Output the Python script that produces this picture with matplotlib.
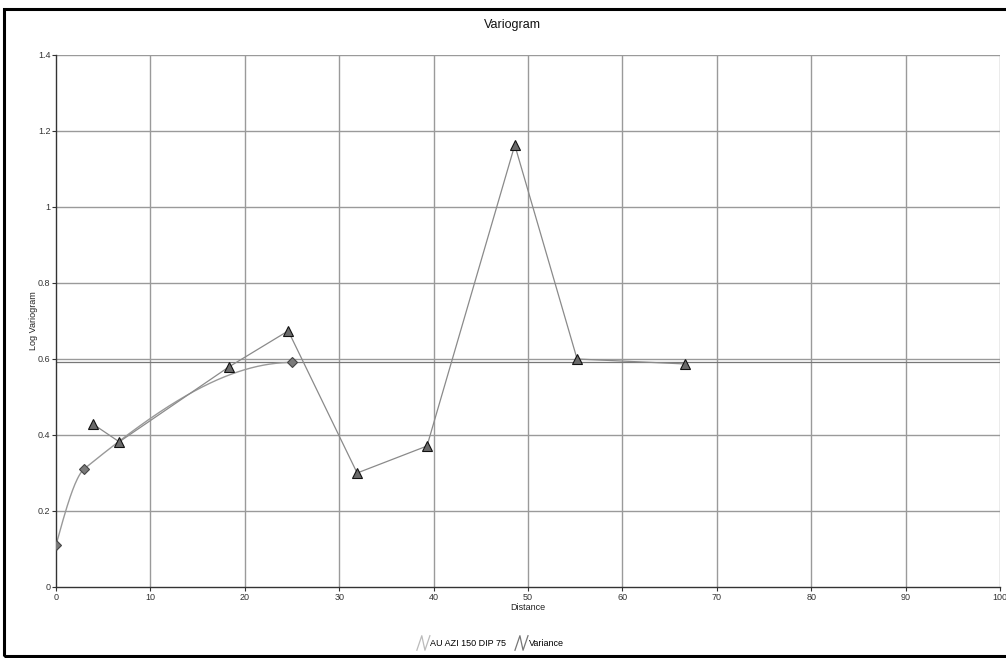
import numpy as np
import matplotlib
matplotlib.use("Agg")
import matplotlib.pyplot as plt
from matplotlib.lines import Line2D
from matplotlib.legend_handler import HandlerBase
from matplotlib.patches import Rectangle

plt.rcParams['font.family'] = ['Liberation Sans', 'DejaVu Sans']

# Experimental variogram (lag distance, log variogram)
lag_distance = [3.9, 6.7, 18.3, 24.6, 31.9, 39.3, 48.6, 55.2, 66.6]
log_variogram = [0.429, 0.382, 0.579, 0.674, 0.300, 0.371, 1.163, 0.600, 0.587]

# Nested spherical model: nugget + two structures
nugget = 0.11
structure_sills = [0.14, 0.341]
structure_ranges = [3.0, 25.0]
model_node_distance = [0.0, 3.0, 25.0]

# Sample variance
variance = 0.591

x_ticks = list(range(0, 101, 10))
y_ticks = [0, 0.2, 0.4, 0.6, 0.8, 1.0, 1.2, 1.4]
y_tick_labels = ['0', '0.2', '0.4', '0.6', '0.8', '1', '1.2', '1.4']


def spherical_model(h):
    h = np.asarray(h, dtype=float)
    g = np.full_like(h, nugget)
    for c, a in zip(structure_sills, structure_ranges):
        r = np.clip(h / a, 0, 1)
        g += c * (1.5 * r - 0.5 * r ** 3)
    return g


class ZigzagHandler(HandlerBase):
    def __init__(self, color, **kw):
        super().__init__(**kw)
        self.color = color

    def create_artists(self, legend, orig_handle, xdescent, ydescent,
                       width, height, fontsize, trans):
        w = width * 0.85
        x0 = width - w
        xs = [x0, x0 + w * 0.38, x0 + w * 0.62, x0 + w]
        ys = [-0.75 * height, 1.55 * height, -0.75 * height, 1.55 * height]
        ln = Line2D(xs, ys, color=self.color, lw=0.9, transform=trans)
        return [ln]


fig = plt.figure(figsize=(10.06, 6.58), dpi=100)
ax = fig.add_axes([56 / 1006, 1 - 587 / 658, 944 / 1006, 532 / 658])

grid_col = '#9a9a9a'
for xv in x_ticks[1:]:
    ax.axvline(xv, color=grid_col, lw=1.0, zorder=0)
for yv in y_ticks[1:]:
    ax.axhline(yv, color=grid_col, lw=1.0, zorder=0)

# Variance line
ax.axhline(variance, color='#777777', lw=0.9, zorder=1)

# Model curve and nodes
h = np.linspace(0, max(structure_ranges), 300)
ax.plot(h, spherical_model(h), color='#999999', lw=1.0, zorder=2)
ax.plot(model_node_distance, spherical_model(model_node_distance), ls='none',
        marker='D', ms=5, mfc='#7a7a7a', mec='#444444', mew=0.8, zorder=4)

# Experimental variogram
ax.plot(lag_distance, log_variogram, color='#8a8a8a', lw=0.9, zorder=3)
ax.plot(lag_distance, log_variogram, ls='none', marker='^', ms=7,
        mfc='#6a6a6a', mec='#111111', mew=0.8, zorder=5)

ax.set_xlim(0, 100)
ax.set_ylim(0, 1.4)
ax.set_xticks(x_ticks)
ax.set_yticks(y_ticks)
ax.set_yticklabels(y_tick_labels)
ax.tick_params(axis='both', labelsize=6.5, colors='#333333', length=3,
               width=0.8, pad=1.0)
for s in ['top', 'right']:
    ax.spines[s].set_visible(False)
for s in ['left', 'bottom']:
    ax.spines[s].set_color('#333333')
    ax.spines[s].set_linewidth(1.0)

ax.set_xlabel('Distance', fontsize=6.5, color='#222222', labelpad=1)
ax.set_ylabel('Log Variogram', fontsize=6.5, color='#222222', labelpad=0)
fig.text(512 / 1006, 1 - 25 / 658, 'Variogram', ha='center', va='center',
         fontsize=9, color='#111111')

h1 = Line2D([], [], color='#bbbbbb')
h2 = Line2D([], [], color='#777777')
fig.legend([h1, h2], ['AU AZI 150 DIP 75', 'Variance'],
           loc='center', bbox_to_anchor=(489 / 1006, 1 - 643 / 658),
           ncol=2, frameon=False, fontsize=6.5, handlelength=1.7,
           handletextpad=0.05, columnspacing=0.7,
           handler_map={h1: ZigzagHandler('#bbbbbb'),
                        h2: ZigzagHandler('#777777')})

# Outer frame
fig.patches.append(Rectangle((4 / 1006, 2 / 658), 1.02, 647 / 658,
                             transform=fig.transFigure, fill=False,
                             edgecolor='black', lw=2.2, clip_on=False))

fig.savefig('out.png', dpi=100)
